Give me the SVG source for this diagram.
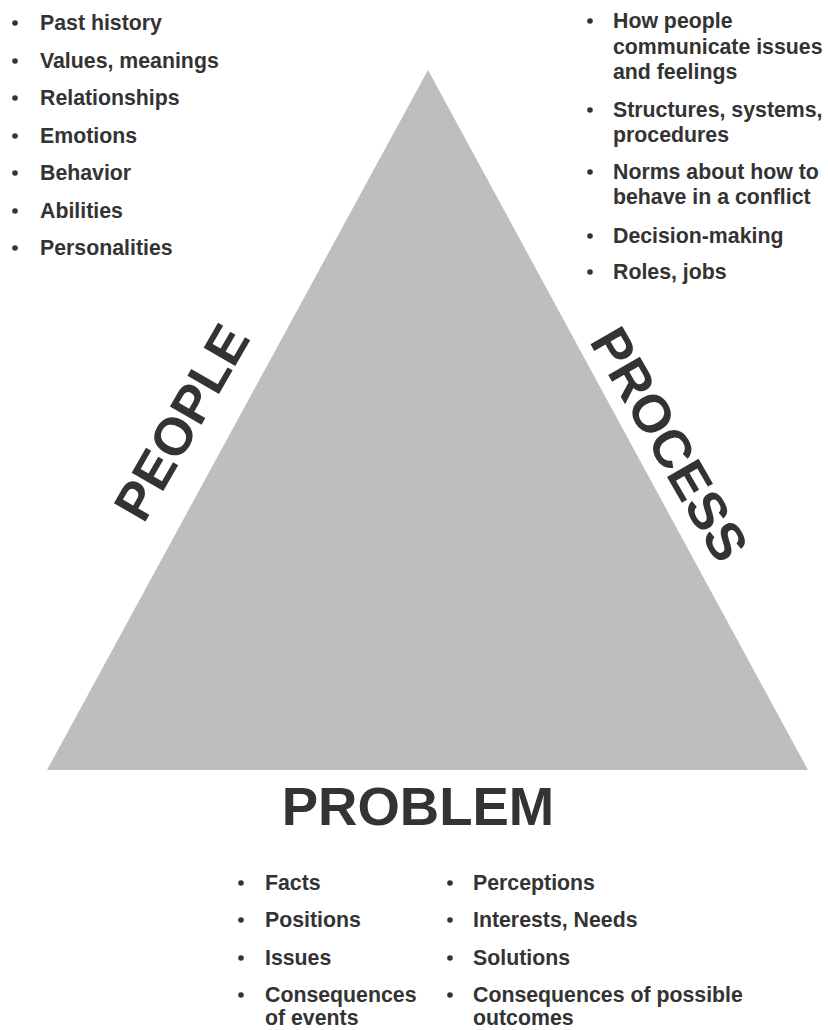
<svg xmlns="http://www.w3.org/2000/svg" width="828" height="1030" viewBox="0 0 828 1030">
<style>
.li{font-family:"Liberation Sans",Arial,sans-serif;font-weight:bold;font-size:21.3px;fill:#333333}
.big{font-family:"Liberation Sans",Arial,sans-serif;font-weight:bold;fill:#333333}
.b{fill:#333333}
</style>
<rect x="0" y="0" width="828" height="1030" fill="#ffffff"/>
<g id="triangle">
<polygon points="428,70 47,770 808,770" fill="#bdbec0"/>
</g>
<g id="people-label">
<text class="big" font-size="53" text-anchor="middle" transform="translate(181,422) rotate(-60)" x="0" y="19">PEOPLE</text>
</g>
<g id="process-label">
<text class="big" font-size="53" text-anchor="middle" transform="translate(670,444) rotate(60)" x="0" y="19">PROCESS</text>
</g>
<g id="problem-label">
<text class="big" font-size="54.5" x="418" y="825" text-anchor="middle">PROBLEM</text>
</g>
<g id="people-list">
<circle class="b" cx="15" cy="23" r="2.8"/><text class="li" x="40" y="30">Past history</text>
<circle class="b" cx="15" cy="61" r="2.8"/><text class="li" x="40" y="68">Values, meanings</text>
<circle class="b" cx="15" cy="98" r="2.8"/><text class="li" x="40" y="105">Relationships</text>
<circle class="b" cx="15" cy="136" r="2.8"/><text class="li" x="40" y="143">Emotions</text>
<circle class="b" cx="15" cy="173" r="2.8"/><text class="li" x="40" y="180">Behavior</text>
<circle class="b" cx="15" cy="211" r="2.8"/><text class="li" x="40" y="218">Abilities</text>
<circle class="b" cx="15" cy="248" r="2.8"/><text class="li" x="40" y="255">Personalities</text>
</g>
<g id="process-list">
<circle class="b" cx="590" cy="21" r="2.8"/><text class="li" x="613" y="28">How people</text>
<text class="li" x="613" y="53.5">communicate issues</text>
<text class="li" x="613" y="79">and feelings</text>
<circle class="b" cx="590" cy="110" r="2.8"/><text class="li" x="613" y="117">Structures, systems,</text>
<text class="li" x="613" y="142">procedures</text>
<circle class="b" cx="590" cy="172" r="2.8"/><text class="li" x="613" y="179">Norms about how to</text>
<text class="li" x="613" y="204">behave in a conflict</text>
<circle class="b" cx="590" cy="236" r="2.8"/><text class="li" x="613" y="243">Decision-making</text>
<circle class="b" cx="590" cy="272" r="2.8"/><text class="li" x="613" y="279">Roles, jobs</text>
</g>
<g id="problem-list-left">
<circle class="b" cx="241" cy="883" r="2.8"/><text class="li" x="265" y="890">Facts</text>
<circle class="b" cx="241" cy="920" r="2.8"/><text class="li" x="265" y="927">Positions</text>
<circle class="b" cx="241" cy="958" r="2.8"/><text class="li" x="265" y="965">Issues</text>
<circle class="b" cx="241" cy="995" r="2.8"/><text class="li" x="265" y="1002">Consequences</text>
<text class="li" x="265" y="1025">of events</text>
</g>
<g id="problem-list-right">
<circle class="b" cx="450" cy="883" r="2.8"/><text class="li" x="473" y="890">Perceptions</text>
<circle class="b" cx="450" cy="920" r="2.8"/><text class="li" x="473" y="927">Interests, Needs</text>
<circle class="b" cx="450" cy="958" r="2.8"/><text class="li" x="473" y="965">Solutions</text>
<circle class="b" cx="450" cy="995" r="2.8"/><text class="li" x="473" y="1002">Consequences of possible</text>
<text class="li" x="473" y="1025">outcomes</text>
</g>
<g id="connectors"></g>
</svg>
